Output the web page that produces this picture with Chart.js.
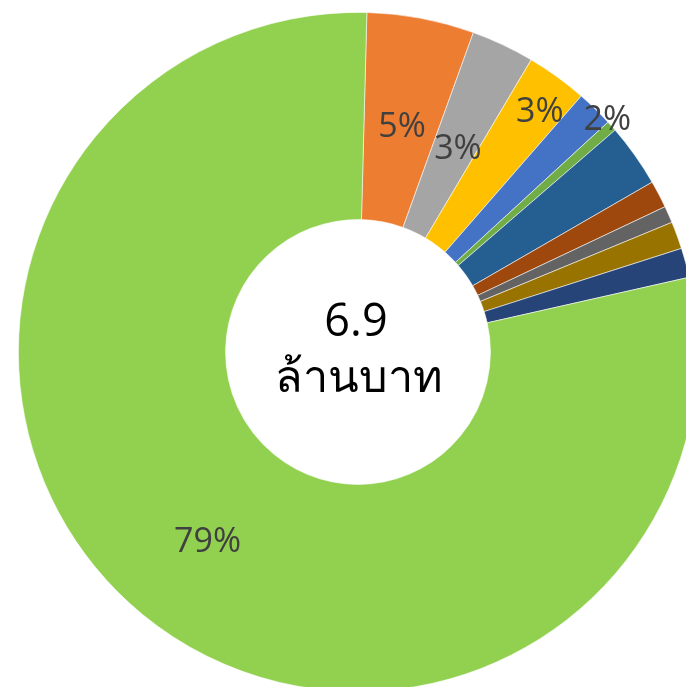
<!DOCTYPE html>
<html>
<head>
<meta charset="utf-8">
<script src="https://cdn.jsdelivr.net/npm/chart.js@4.4.1/dist/chart.umd.min.js"></script>
<style>
  html, body { margin: 0; padding: 0; background: #fff; overflow: hidden; width: 686px; height: 687px; }
  #wrap { position: absolute; left: 18px; top: 12px; width: 680px; height: 680px; }
</style>
</head>
<body>
<div id="wrap"><canvas id="budget"></canvas></div>
<script>
// share of total budget (%), clockwise from the top
const categories = ["A", "B", "C", "D", "E", "F", "G", "H", "I", "J", "K"];
const shares = [5.1, 3.0, 2.9, 1.75, 0.5, 3.0, 1.3, 0.8, 1.3, 1.4, 78.95];
const sliceColors = ["#ED7D31", "#A5A5A5", "#FFC000", "#4472C4", "#70AD47", "#255E91",
  "#9E480E", "#636363", "#997300", "#264478", "#92D050"];
const totalText = ["6.9", "ล้านบาท"];

// which slices get a % label: [fraction of outer radius, angle nudge in degrees]
const labelPos = { 0: [0.68, 0.3], 1: [0.67, 0.8], 2: [0.89, 1.1], 3: [1.006, 2.6], 10: [0.71, -0.8] };

const pctLabels = {
  id: "pctLabels",
  afterDatasetsDraw(chart) {
    const ctx = chart.ctx;
    const meta = chart.getDatasetMeta(0);
    const total = shares.reduce((a, b) => a + b, 0);
    ctx.save();
    ctx.font = "34px 'Open Sans'";
    ctx.fillStyle = "#404040";
    ctx.textAlign = "center";
    ctx.textBaseline = "middle";
    meta.data.forEach((arc, i) => {
      if (labelPos[i] === undefined) return;
      const p = arc.getProps(["startAngle", "endAngle", "outerRadius", "x", "y"], true);
      const mid = (p.startAngle + p.endAngle) / 2 + (labelPos[i][1] * Math.PI) / 180;
      const r = p.outerRadius * labelPos[i][0];
      const txt = Math.round((shares[i] / total) * 100) + "%";
      ctx.fillText(txt, p.x + r * Math.cos(mid), p.y + r * Math.sin(mid) + 2);
    });
    ctx.restore();
  },
};

const centerText = {
  id: "centerText",
  afterDraw(chart) {
    const ctx = chart.ctx;
    const a = chart.chartArea;
    const cx = (a.left + a.right) / 2, cy = (a.top + a.bottom) / 2;
    ctx.save();
    ctx.fillStyle = "#000";
    ctx.textAlign = "center";
    ctx.textBaseline = "middle";
    ctx.font = "45px 'Open Sans'";
    ctx.fillText(totalText[0], cx - 2, cy - 29);
    ctx.font = "45px 'Noto Sans', 'Open Sans', sans-serif";
    ctx.fillText(totalText[1], cx + 1, cy + 27);
    ctx.restore();
  },
};

new Chart(document.getElementById("budget"), {
  type: "doughnut",
  data: {
    labels: categories,
    datasets: [
      {
        data: shares,
        backgroundColor: sliceColors,
        borderColor: "rgba(255,255,255,0.7)",
        borderWidth: 0.8,
      },
    ],
  },
  options: {
    responsive: true,
    maintainAspectRatio: false,
    animation: false,
    rotation: 1.5,
    cutout: "39%",
    layout: { padding: 0 },
    plugins: {
      legend: { display: false },
      tooltip: { enabled: false },
    },
  },
  plugins: [pctLabels, centerText],
});
</script>
</body>
</html>
